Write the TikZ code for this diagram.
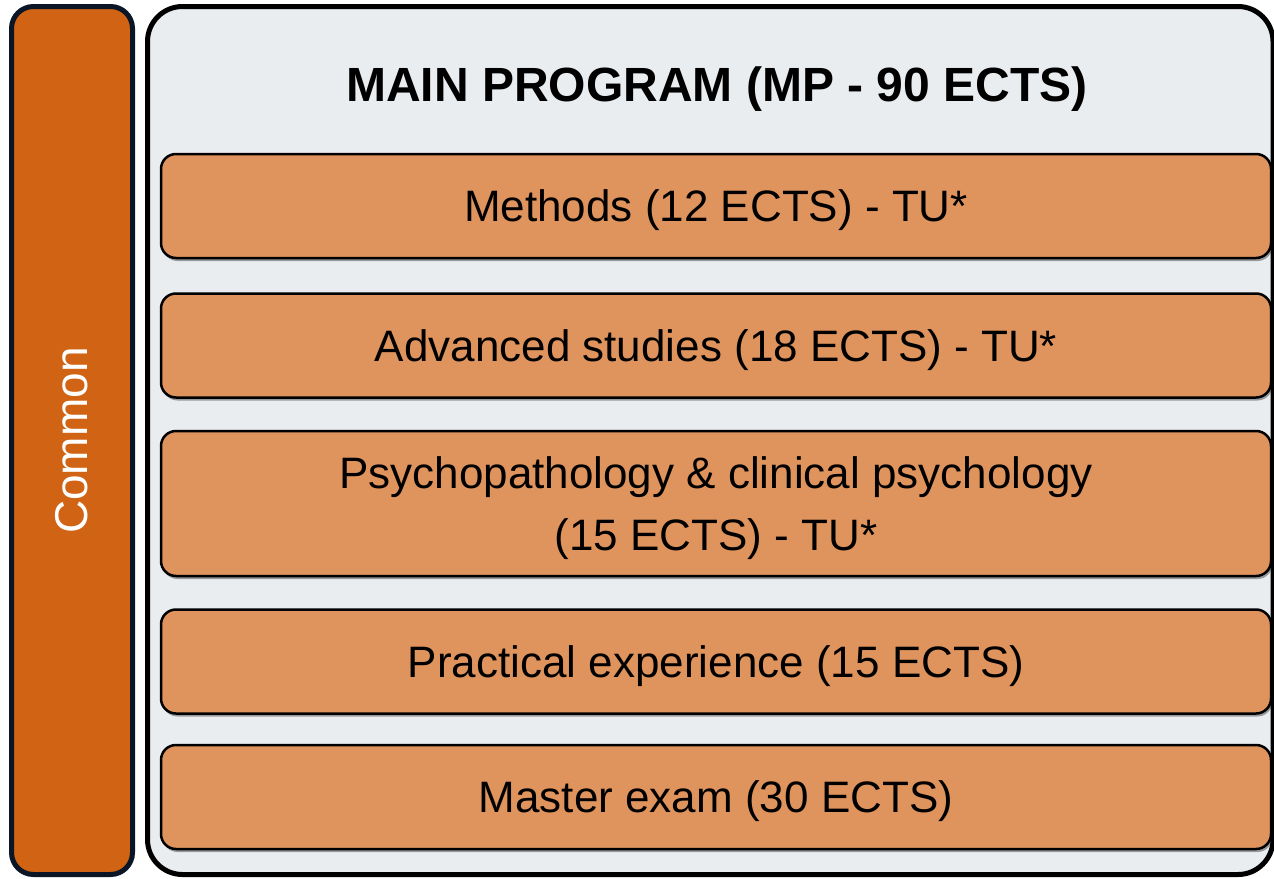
\documentclass[tikz,border=0pt]{standalone}
\usepackage{fontspec}
\setmainfont{Liberation Sans}
\usetikzlibrary{positioning}
\usetikzlibrary{shadows}

\definecolor{barorange}{HTML}{D06414}
\definecolor{barnavy}{HTML}{0A1626}
\definecolor{panelgray}{HTML}{E9EDF0}
\definecolor{unitorange}{HTML}{DF935D}

\begin{document}
\begin{tikzpicture}[x=1pt, y=1pt,
			unit/.style={draw=black, line width=2.5pt, fill=unitorange, rounded corners=15pt,
				minimum width=1110pt, minimum height=104pt, align=center, text depth=0pt,
				font=\fontsize{44}{62}\selectfont,
				drop shadow={shadow xshift=1.5pt, shadow yshift=-3pt, opacity=0.35, fill=black}},
			commonbar/.style={draw=barnavy, line width=5pt, fill=barorange, rounded corners=22pt, rotate=90,
				minimum width=868pt, minimum height=121pt, text=white, font=\fontsize{46}{50}\selectfont},
			panel/.style={draw=black, line width=5pt, fill=panelgray, rounded corners=35pt,
				minimum width=1125.5pt, minimum height=868pt}]
			\useasboundingbox (0,0) rectangle (1274,-878);
			\node[panel](main) at (710.25,-440.5){};
			\node[commonbar](common) at (72,-440.5){Common};
			\node[font=\fontsize{48}{52}\selectfont\bfseries, text depth=0pt](title) at (717,-84){MAIN PROGRAM (MP - 90 ECTS)};
			\node[unit](methods) at (716,-206){Methods (12 ECTS) - TU*};
			\node[unit, below=33pt of methods](advanced){Advanced studies (18 ECTS) - TU*};
			\node[unit, below=31pt of advanced, minimum height=145pt](psycho){Psychopathology \& clinical psychology\\(15 ECTS) - TU*};
			\node[unit, below=31pt of psycho](practical){Practical experience (15 ECTS)};
			\node[unit, below=29pt of practical](exam){Master exam (30 ECTS)};
	\end{tikzpicture}
\end{document}
